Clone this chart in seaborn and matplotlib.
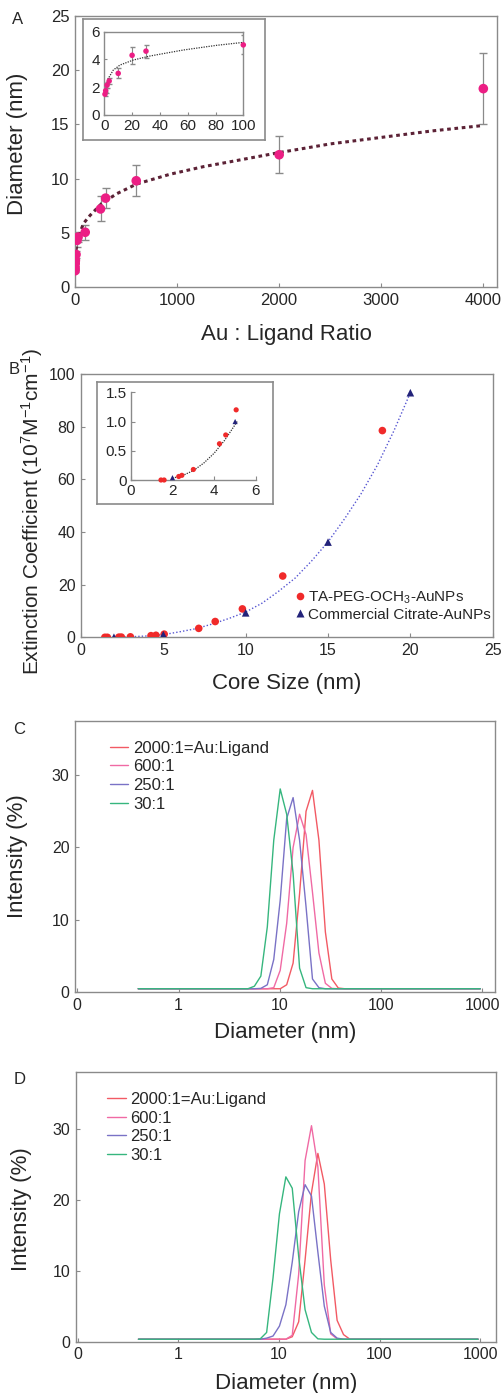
import pandas as pd
import seaborn as sns
import matplotlib.pyplot as plt
from matplotlib.ticker import NullLocator

W, H = 503, 1393

# Panel A: core diameter vs Au:ligand ratio
ratio = [0.5, 1, 2, 3.5, 10, 20, 30, 100, 250, 300, 600, 2000, 4000]
diameter = [1.5, 1.75, 2.15, 2.45, 3.0, 4.3, 4.6, 5.05, 7.2, 8.2, 9.8, 12.2, 18.3]
diameter_err = [0.15, 0.2, 0.2, 0.2, 0.36, 0.6, 0.47, 0.68, 1.15, 0.95, 1.45, 1.7, 3.3]
fit_a_x = [10, 30, 82, 147, 261, 408, 604, 930, 1257, 1518, 2000, 2500, 3000, 3500, 4000]
fit_a_y = [3.4, 4.5, 5.85, 6.6, 7.7, 8.6, 9.5, 10.4, 11.1, 11.55, 12.4, 13.2, 13.8, 14.4, 14.9]
inset_a_fit_x = [0.3, 0.8, 2.9, 6.5, 11.3, 20.9, 32.9, 56.8, 80.9, 100]
inset_a_fit_y = [1.5, 1.9, 2.64, 3.24, 3.6, 3.96, 4.25, 4.68, 5.02, 5.23]

# Panel B: extinction coefficient vs core size
peg_size = [1.45, 1.6, 2.3, 2.45, 3.0, 4.25, 4.55, 5.05, 7.15, 8.15, 9.8, 12.25, 18.3]
peg_ext = [0.0, 0.0, 0.06, 0.08, 0.18, 0.62, 0.77, 1.2, 3.4, 6.0, 10.8, 23.3, 78.6]
citrate_size = [2, 5, 10, 15, 20]
citrate_ext = [0.04, 1.0, 9.3, 36.2, 93.0]
fit_b_x = [2, 3, 4, 5, 6, 7, 8, 9, 10, 11, 12, 13, 14, 15, 16, 17, 18, 19, 20]
fit_b_y = [0.05, 0.2, 0.5, 1.0, 2.1, 3.3, 5.1, 7.2, 9.6, 13.0, 17.5, 22.5, 29.0, 36.3, 45.0, 54.5, 65.5, 78.5, 93.0]
inset_b_fit_x = [2.0, 2.5, 3.0, 3.5, 4.0, 4.5, 5.1]
inset_b_fit_y = [0.03, 0.08, 0.16, 0.29, 0.46, 0.68, 1.0]
peg_label = 'TA-PEG-OCH$_3$-AuNPs'
citrate_label = 'Commercial Citrate-AuNPs'

# Panels C and D: DLS intensity distributions
dls_size = [0.4, 4.849, 5.615, 6.503, 7.531, 8.721, 10.10, 11.70, 13.54, 15.69,
            18.17, 21.04, 24.36, 28.21, 32.67, 37.84, 43.82, 50.75, 955.4]
dls_labels = ['2000:1=Au:Ligand', '600:1', '250:1', '30:1']
c_2000 = [0.45, 0.45, 0.45, 0.45, 0.45, 0.45, 0.45, 1.0, 4.0, 13.6, 25.0, 27.9, 21.0, 8.3, 1.8, 0.55, 0.45, 0.45, 0.45]
c_600 = [0.45, 0.45, 0.45, 0.45, 0.45, 0.6, 3.0, 9.5, 20.0, 24.6, 21.8, 13.8, 5.4, 1.2, 0.5, 0.45, 0.45, 0.45, 0.45]
c_250 = [0.45, 0.45, 0.45, 0.5, 1.0, 4.5, 12.7, 24.0, 26.9, 21.0, 11.8, 1.8, 0.6, 0.45, 0.45, 0.45, 0.45, 0.45, 0.45]
c_30 = [0.45, 0.45, 0.8, 2.2, 9.0, 21.0, 28.1, 24.6, 16.4, 3.3, 0.6, 0.45, 0.45, 0.45, 0.45, 0.45, 0.45, 0.45, 0.45]
d_2000 = [0.35, 0.35, 0.35, 0.35, 0.35, 0.35, 0.35, 0.35, 0.7, 2.8, 11.5, 21.0, 26.5, 22.2, 11.5, 3.0, 1.0, 0.35, 0.35]
d_600 = [0.35, 0.35, 0.35, 0.35, 0.35, 0.35, 0.35, 0.35, 0.9, 9.5, 25.5, 30.4, 24.6, 8.0, 1.1, 0.4, 0.35, 0.35, 0.35]
d_250 = [0.35, 0.35, 0.35, 0.35, 0.5, 0.8, 2.2, 5.2, 11.2, 18.3, 22.1, 20.5, 12.6, 5.0, 1.3, 0.5, 0.35, 0.35, 0.35]
d_30 = [0.35, 0.35, 0.35, 0.4, 1.3, 9.0, 18.0, 23.2, 21.6, 12.0, 4.5, 1.3, 0.4, 0.35, 0.35, 0.35, 0.35, 0.35, 0.35]
dls_colors = ['#f25a64', '#f06aa4', '#7a72c6', '#36b67e']
dls_ticks = [0.1, 1, 10, 100, 1000]
dls_ticklabels = ['0', '1', '10', '100', '1000']

sns.set_theme(style='ticks')
plt.rcParams['font.family'] = ['Liberation Sans', 'DejaVu Sans']
plt.rcParams['mathtext.default'] = 'regular'

fig = plt.figure(figsize=(W / 100, H / 100), dpi=100)


def px_axes(left, top, right, bottom, **kw):
    return fig.add_axes([left / W, 1 - bottom / H, (right - left) / W, (bottom - top) / H], **kw)


def style_axes(ax, size):
    for s in ax.spines.values():
        s.set_color('#8a8a8a')
        s.set_linewidth(1.0)
    ax.tick_params(direction='in', length=3, width=0.8, color='#8a8a8a', labelsize=size, pad=4)


def frame_box(left, top, right, bottom):
    box = px_axes(left, top, right, bottom)
    box.set_xticks([])
    box.set_yticks([])
    for s in box.spines.values():
        s.set_color('#8a8a8a')
        s.set_linewidth(1.2)
    return box


pink = '#ec1e84'
grey = '#8a8a8a'

# ---------- A ----------
ax_a = px_axes(75, 16, 497, 287)
ax_a.errorbar(ratio, diameter, yerr=diameter_err, fmt='none', ecolor=grey, elinewidth=0.9, capsize=3, zorder=1)
sns.lineplot(x=fit_a_x, y=fit_a_y, ax=ax_a, color='#5c2236', linewidth=2.2,
             linestyle=(0, (1.2, 1.2)), sort=False, estimator=None, zorder=2)
sns.scatterplot(x=ratio, y=diameter, ax=ax_a, color=pink, s=48, edgecolor='none', zorder=3)
ax_a.set_xlim(0, 4134)
ax_a.set_ylim(0, 25)
ax_a.set_xticks([0, 1000, 2000, 3000, 4000])
ax_a.set_yticks([0, 5, 10, 15, 20, 25])
style_axes(ax_a, 12)
ax_a.set_xlabel('Au : Ligand Ratio', fontsize=16)
ax_a.set_ylabel('Diameter (nm)', fontsize=16)
ax_a.xaxis.set_label_coords(0.5, -0.135)
ax_a.yaxis.set_label_coords(-0.111, 0.53)

frame_box(83, 19, 265, 140)
in_a = px_axes(104.3, 31.7, 243.3, 115)
in_a.patch.set_alpha(0)
in_a.errorbar(ratio[:8], diameter[:8], yerr=diameter_err[:8], fmt='none', ecolor=grey,
              elinewidth=0.8, capsize=1.8, zorder=1)
sns.lineplot(x=inset_a_fit_x, y=inset_a_fit_y, ax=in_a, color='#333333', linewidth=0.9,
             linestyle=(0, (1, 1)), sort=False, estimator=None, zorder=2)
sns.scatterplot(x=ratio[:8], y=diameter[:8], ax=in_a, color=pink, s=16, edgecolor='none',
                zorder=3, clip_on=False)
in_a.set_xlim(0, 100)
in_a.set_ylim(0, 6)
in_a.set_xticks([0, 20, 40, 60, 80, 100])
in_a.set_yticks([0, 2, 4, 6])
style_axes(in_a, 11)
in_a.tick_params(length=2, pad=3)

# ---------- B ----------
ax_b = px_axes(81, 374.3, 492.7, 637.3)
df_b = pd.DataFrame({
    'size': peg_size + citrate_size,
    'ext': peg_ext + citrate_ext,
    'sample': [peg_label] * len(peg_size) + [citrate_label] * len(citrate_size),
})
b_palette = {peg_label: '#f02a2a', citrate_label: '#23237a'}
b_markers = {peg_label: 'o', citrate_label: '^'}
sns.lineplot(x=fit_b_x, y=fit_b_y, ax=ax_b, color='#5656d2', linewidth=1.0,
             linestyle=(0, (1, 1.5)), sort=False, estimator=None, zorder=2)
sns.scatterplot(data=df_b, x='size', y='ext', hue='sample', style='sample', palette=b_palette,
                markers=b_markers, s=30, edgecolor='none', ax=ax_b, zorder=3)
ax_b.set_xlim(0, 25)
ax_b.set_ylim(0, 100)
ax_b.set_xticks([0, 5, 10, 15, 20, 25])
ax_b.set_yticks([0, 20, 40, 60, 80, 100])
style_axes(ax_b, 11.5)
ax_b.set_xlabel('Core Size (nm)', fontsize=16)
ax_b.set_ylabel('Extinction Coefficient (10$^7$M$^{-1}$cm$^{-1}$)', fontsize=15)
ax_b.xaxis.set_label_coords(0.5, -0.135)
ax_b.yaxis.set_label_coords(-0.087, 0.48)
sns.move_legend(ax_b, 'center left', bbox_to_anchor=(0.52, 0.121), title=None, frameon=False,
                fontsize=11, handlelength=0.6, handletextpad=0.25, labelspacing=0.15,
                borderpad=0, borderaxespad=0, markerscale=1.0)

frame_box(97, 382, 273, 504)
in_b = px_axes(130.7, 392.3, 256, 480)
in_b.patch.set_alpha(0)
inset_mask = df_b['size'] <= 5.1
sns.lineplot(x=inset_b_fit_x, y=inset_b_fit_y, ax=in_b, color='#333333', linewidth=0.9,
             linestyle=(0, (1, 1)), sort=False, estimator=None, zorder=2)
sns.scatterplot(data=df_b[inset_mask], x='size', y='ext', hue='sample', style='sample',
                palette=b_palette, markers=b_markers, s=14, edgecolor='none', ax=in_b,
                legend=False, zorder=3, clip_on=False)
in_b.set_xlim(0, 6)
in_b.set_ylim(0, 1.5)
in_b.set_xticks([0, 2, 4, 6])
in_b.set_yticks([0, 0.5, 1.0, 1.5])
in_b.set_yticklabels(['0', '0.5', '1.0', '1.5'])
in_b.set_xlabel('')
in_b.set_ylabel('')
style_axes(in_b, 11)
in_b.spines['top'].set_visible(False)
in_b.spines['right'].set_visible(False)
in_b.tick_params(length=3, pad=3)


# ---------- C and D ----------
def dls_panel(ax, series, xmax, ymax, legend_anchor):
    df = pd.DataFrame({
        'size': dls_size * 4,
        'intensity': sum(series, []),
        'ratio': [lab for lab in dls_labels for _ in dls_size],
    })
    sns.lineplot(data=df, x='size', y='intensity', hue='ratio', hue_order=dls_labels,
                 palette=dls_colors, linewidth=1.0, sort=False, estimator=None, ax=ax)
    ax.set_xscale('log')
    ax.set_xlim(0.095, xmax)
    ax.set_ylim(0, ymax)
    ax.set_xticks(dls_ticks)
    ax.set_xticklabels(dls_ticklabels)
    ax.xaxis.set_minor_locator(NullLocator())
    ax.set_yticks([0, 10, 20, 30])
    style_axes(ax, 11.5)
    ax.set_xlabel('Diameter (nm)', fontsize=16)
    ax.set_ylabel('Intensity (%)', fontsize=16)
    sns.move_legend(ax, 'upper left', bbox_to_anchor=legend_anchor, title=None, frameon=False,
                    fontsize=12, handlelength=1.1, handletextpad=0.3, labelspacing=0.22,
                    borderpad=0, borderaxespad=0)


ax_c = px_axes(75, 721, 495, 992)
dls_panel(ax_c, [c_2000, c_600, c_250, c_30], 1335, 37.5, (0.083, 0.928))
ax_c.xaxis.set_label_coords(0.5, -0.11)
ax_c.yaxis.set_label_coords(-0.112, 0.5)

ax_d = px_axes(75.7, 1071.7, 495.7, 1341.7)
dls_panel(ax_d, [d_2000, d_600, d_250, d_30], 1430, 38, (0.075, 0.925))
ax_d.xaxis.set_label_coords(0.5, -0.116)
ax_d.yaxis.set_label_coords(-0.104, 0.49)

for letter, x, y in [('A', 18, 20), ('B', 14, 370), ('C', 19, 729), ('D', 20, 1079)]:
    fig.text(x / W, 1 - y / H, letter, fontsize=12, ha='center', va='center')

fig.savefig('out.png', dpi=100)
